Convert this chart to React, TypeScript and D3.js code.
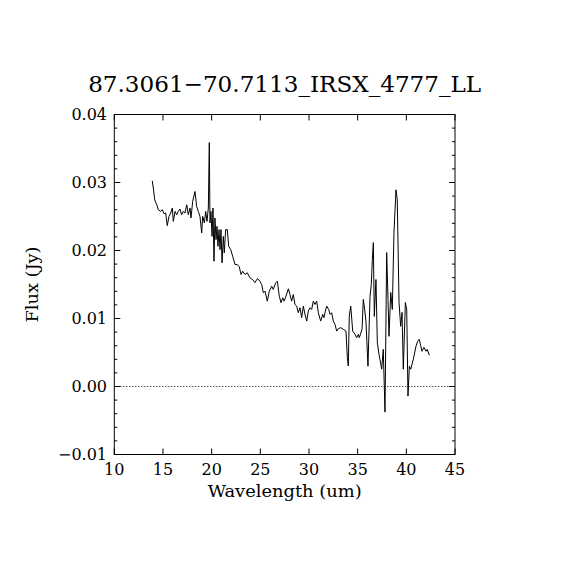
import React from "react";
import * as d3 from "d3";

const title = "87.3061\u221270.7113_IRSX_4777_LL";
const xLabel = "Wavelength (um)";
const yLabel = "Flux (Jy)";
const xTicks = [10, 15, 20, 25, 30, 35, 40, 45];
const yTicks = [-0.01, 0.0, 0.01, 0.02, 0.03, 0.04];
const yTickLabels = ["\u22120.01", "0.00", "0.01", "0.02", "0.03", "0.04"];

const wavelength = [
  13.90, 14.01, 14.15, 14.36, 14.52, 14.77, 14.93, 15.11, 15.28, 15.44,
  15.62, 15.79, 15.96, 16.06, 16.24, 16.41, 16.57, 16.75, 16.92, 17.09,
  17.26, 17.44, 17.60, 17.78, 17.88, 18.05, 18.29, 18.46, 18.63, 18.80,
  18.98, 19.08, 19.25, 19.39, 19.52, 19.66, 19.76, 19.83, 19.93, 20.04,
  20.14, 20.24, 20.34, 20.45, 20.55, 20.65, 20.76, 20.86, 20.96, 21.07,
  21.20, 21.30, 21.44, 21.61, 21.75, 21.96, 22.16, 22.40, 22.64, 22.84,
  23.02, 23.19, 23.43, 23.66, 23.94, 24.20, 24.45, 24.71, 24.97,
  25.14, 25.31, 25.48, 25.72, 25.92, 26.17, 26.33, 26.58, 26.75, 26.95,
  27.13, 27.30, 27.43, 27.64, 27.88, 28.05, 28.22, 28.39, 28.56, 28.74,
  28.90, 29.08, 29.25, 29.42, 29.59, 29.77, 29.93, 30.10, 30.28, 30.44,
  30.62, 30.79, 30.96, 31.20, 31.41, 31.54, 31.68, 31.82, 32.03, 32.16,
  32.33, 32.50, 32.67, 32.85, 33.01, 33.26, 33.53, 33.80, 33.94, 34.04,
  34.14, 34.29, 34.49, 34.73, 34.90, 35.07, 35.17,
  35.45, 35.58, 35.72, 35.86, 36.06, 36.27, 36.40, 36.51, 36.61, 36.71,
  36.88, 37.02, 37.19, 37.29, 37.47, 37.63, 37.81, 37.98, 38.12, 38.22,
  38.40, 38.56, 38.73, 38.94, 39.07, 39.25, 39.42, 39.56, 39.69, 39.90,
  40.04, 40.17, 40.31, 40.45, 40.72, 40.99, 41.16, 41.33, 41.47, 41.61,
  41.81, 42.02, 42.15, 42.36,
];

const flux = [
  0.03025, 0.02918, 0.02746, 0.02673, 0.02600, 0.02575, 0.02600, 0.02541, 0.02551, 0.02365,
  0.02502, 0.02551, 0.02625, 0.02428, 0.02575, 0.02526, 0.02575, 0.02610, 0.02526, 0.02575,
  0.02551, 0.02673, 0.02526, 0.02625, 0.02478, 0.02721, 0.02868, 0.02648, 0.02575, 0.02502,
  0.02258, 0.02502, 0.02405, 0.02575, 0.02428, 0.02625, 0.03587, 0.02405, 0.02575, 0.02208,
  0.02625, 0.01842, 0.02478, 0.02160, 0.02355, 0.02062, 0.02307, 0.02013, 0.02307, 0.01818,
  0.02208, 0.01965, 0.02307, 0.02307, 0.02062, 0.02013, 0.01915, 0.01793, 0.01793, 0.01760,
  0.01647, 0.01695, 0.01647, 0.01672, 0.01598, 0.01573, 0.01529, 0.01588, 0.01544,
  0.01500, 0.01378, 0.01402, 0.01255, 0.01402, 0.01475, 0.01427, 0.01525, 0.01548, 0.01328,
  0.01232, 0.01305, 0.01255, 0.01328, 0.01437, 0.01353, 0.01255, 0.01353, 0.01207, 0.01182,
  0.01085, 0.01158, 0.01012, 0.01182, 0.01060, 0.00962, 0.01109, 0.01158, 0.01133, 0.01255,
  0.01207, 0.01255, 0.01085, 0.00962, 0.01060, 0.01012, 0.01109, 0.01182, 0.01133, 0.01060,
  0.01085, 0.00962, 0.00914, 0.00815, 0.00850, 0.00865, 0.00840, 0.00815, 0.00425, 0.00302,
  0.01035, 0.01182, 0.00815, 0.00767, 0.00718, 0.00767, 0.00718,
  0.00840, 0.01280, 0.01133, 0.00943, 0.00298, 0.01324, 0.01500, 0.01867, 0.02116, 0.01031,
  0.01573, 0.00650, 0.00474, 0.00400, 0.00254, 0.00547, -0.00377, 0.01969, 0.01280, 0.00738,
  0.01383, 0.01133, 0.02262, 0.02893, 0.02746, 0.01236, 0.00884, 0.01090, 0.00254, 0.01236,
  0.01133, -0.00142, 0.00298, 0.00254, 0.00400, 0.00591, 0.00664, 0.00694, 0.00606, 0.00518,
  0.00576, 0.00518, 0.00547, 0.00459,
];

const W = 570;
const H = 570;
const left = 114.3;
const right = 455;
const top = 114.5;
const bottom = 454.5;
const font = "'DejaVu Serif', 'Liberation Serif', serif";

export default function App() {
  const x = d3.scaleLinear().domain([10, 45]).range([left, right]);
  const y = d3.scaleLinear().domain([-0.01, 0.04]).range([bottom, top]);
  const line = d3
    .line<number>()
    .x((_, i) => x(wavelength[i]))
    .y((d) => y(d));
  const minorY = d3.range(-0.01, 0.0401, 0.002).filter(
    (v) => !yTicks.some((t) => Math.abs(t - v) < 1e-6)
  );

  return (
    <svg
      width={W}
      height={H}
      style={{ position: "absolute", left: 0, top: 0, background: "#fff" }}
    >
      <rect x={0} y={0} width={W} height={H} fill="#fff" />
      <text
        x={(left + right) / 2}
        y={92}
        textAnchor="middle"
        fontFamily={font}
        fontSize={23}
        textLength={393}
        lengthAdjust="spacingAndGlyphs"
      >
        {title}
      </text>
      {/* zero dotted line */}
      <line
        x1={left}
        x2={right}
        y1={y(0)}
        y2={y(0)}
        stroke="#000"
        strokeWidth={1}
        strokeDasharray="1,2"
      />
      {/* data */}
      <path d={line(flux) || ""} fill="none" stroke="#000" strokeWidth={1} />
      {/* frame */}
      <rect
        x={left}
        y={top}
        width={right - left}
        height={bottom - top}
        fill="none"
        stroke="#000"
        strokeWidth={1}
      />
      {xTicks.map((t) => (
        <g key={"xt" + t}>
          <line x1={x(t)} x2={x(t)} y1={bottom} y2={bottom - 6} stroke="#000" />
          <line x1={x(t)} x2={x(t)} y1={top} y2={top + 6} stroke="#000" />
          <text
            x={x(t)}
            y={475}
            textAnchor="middle"
            fontFamily={font}
            fontSize={16}
          >
            {t}
          </text>
        </g>
      ))}
      {yTicks.map((t, i) => (
        <g key={"yt" + t}>
          <line x1={left} x2={left + 6} y1={y(t)} y2={y(t)} stroke="#000" />
          <line x1={right} x2={right - 6} y1={y(t)} y2={y(t)} stroke="#000" />
          <text
            x={107}
            y={y(t) + 5}
            textAnchor="end"
            fontFamily={font}
            fontSize={16}
          >
            {yTickLabels[i]}
          </text>
        </g>
      ))}
      {minorY.map((t) => (
        <g key={"ym" + t.toFixed(4)}>
          <line x1={left} x2={left + 3} y1={y(t)} y2={y(t)} stroke="#000" />
          <line x1={right} x2={right - 3} y1={y(t)} y2={y(t)} stroke="#000" />
        </g>
      ))}
      <text
        x={(left + right) / 2}
        y={497}
        textAnchor="middle"
        fontFamily={font}
        fontSize={16}
        textLength={154}
        lengthAdjust="spacingAndGlyphs"
      >
        {xLabel}
      </text>
      <text
        transform={`translate(38, ${(top + bottom) / 2}) rotate(-90)`}
        textAnchor="middle"
        fontFamily={font}
        fontSize={16}
        textLength={76}
        lengthAdjust="spacingAndGlyphs"
      >
        {yLabel}
      </text>
    </svg>
  );
}
